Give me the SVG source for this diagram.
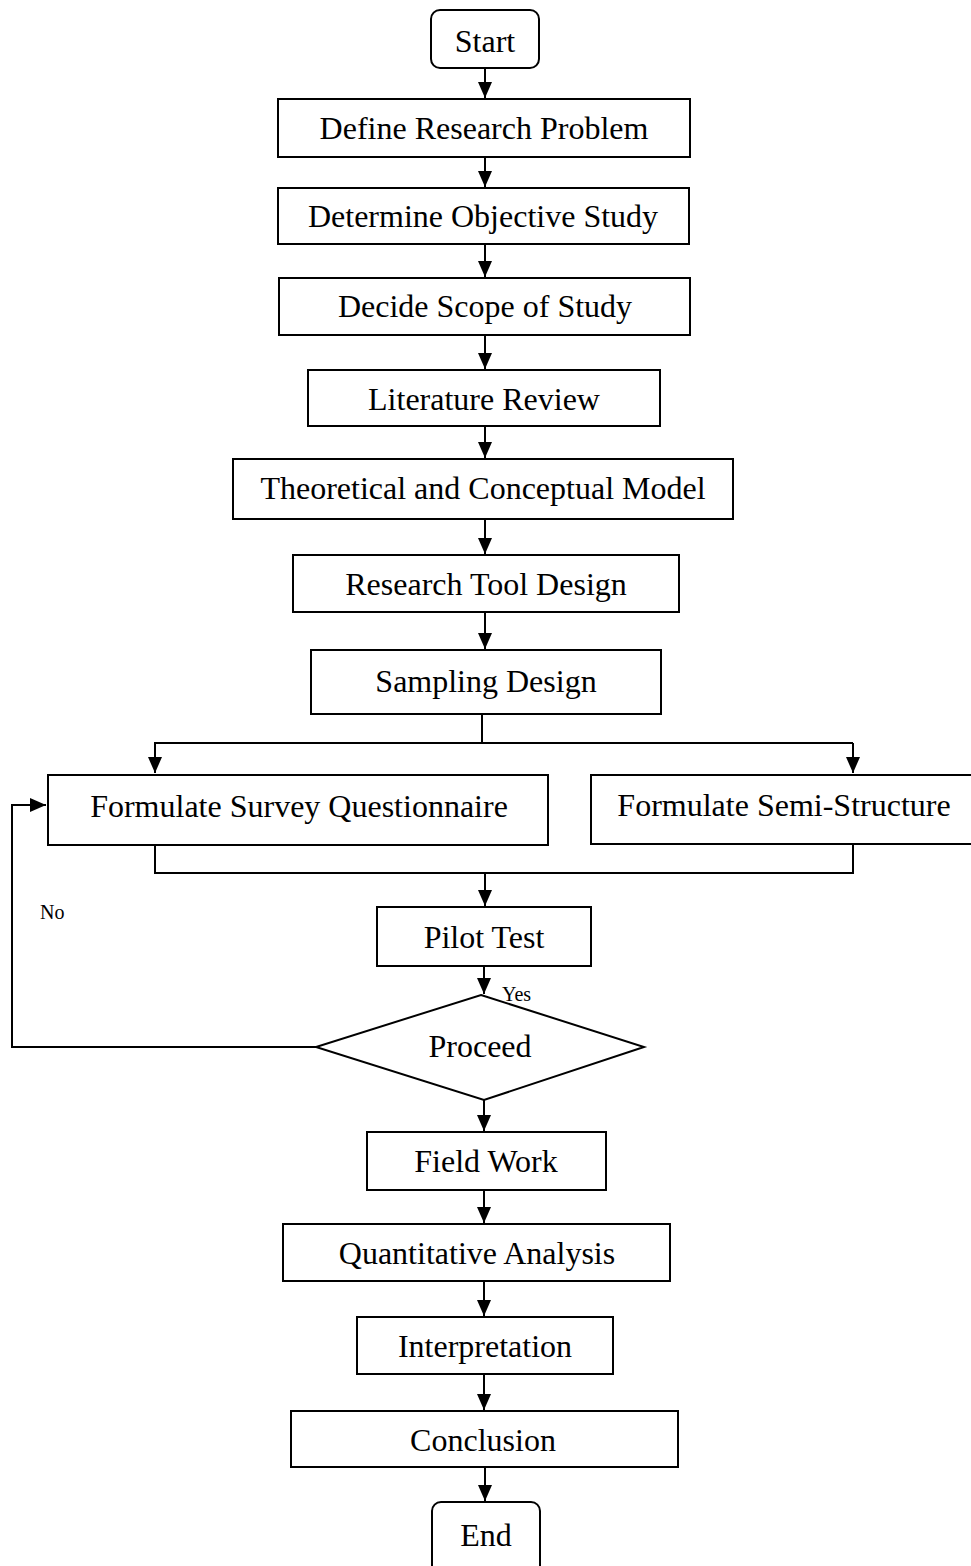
<svg xmlns="http://www.w3.org/2000/svg" width="971" height="1566" viewBox="0 0 971 1566">
<defs>
<marker id="ah" viewBox="0 0 16 14" refX="16" refY="7" markerWidth="16" markerHeight="14" markerUnits="userSpaceOnUse" orient="auto">
<path d="M0,0 L16,7 L0,14 z" fill="#000"/>
</marker>
</defs>
<style>
.box{fill:#fff;stroke:#000;stroke-width:2}
.t{font-family:"Liberation Serif","Times New Roman",serif;font-size:32px;fill:#000;text-anchor:middle}
.s{font-family:"Liberation Serif","Times New Roman",serif;font-size:20px;fill:#000}
.c{fill:none;stroke:#000;stroke-width:2}
</style>
<rect width="971" height="1566" fill="#fff"/>
<g id="connectors">
<path class="c" d="M485,68 V98" marker-end="url(#ah)"/>
<path class="c" d="M485,157 V187" marker-end="url(#ah)"/>
<path class="c" d="M485,244 V277" marker-end="url(#ah)"/>
<path class="c" d="M485,335 V369" marker-end="url(#ah)"/>
<path class="c" d="M485,426 V458" marker-end="url(#ah)"/>
<path class="c" d="M485,519 V554" marker-end="url(#ah)"/>
<path class="c" d="M485,612 V649" marker-end="url(#ah)"/>
<path class="c" d="M482,714 V743"/>
<path class="c" d="M853,743 H155 V773" marker-end="url(#ah)"/>
<path class="c" d="M853,743 V773" marker-end="url(#ah)"/>
<path class="c" d="M155,845 V873 H853 V844"/>
<path class="c" d="M485,873 V906" marker-end="url(#ah)"/>
<path class="c" d="M484,966 V994" marker-end="url(#ah)"/>
<path class="c" d="M316,1047 H12 V805 H46" marker-end="url(#ah)"/>
<path class="c" d="M484,1100 V1131" marker-end="url(#ah)"/>
<path class="c" d="M484,1190 V1223" marker-end="url(#ah)"/>
<path class="c" d="M484,1281 V1316" marker-end="url(#ah)"/>
<path class="c" d="M484,1374 V1410" marker-end="url(#ah)"/>
<path class="c" d="M485,1467 V1501" marker-end="url(#ah)"/>
<text class="s" x="40" y="919">No</text>
<text class="s" x="502" y="1001">Yes</text>
</g>
<g id="start"><rect class="box" x="431" y="10" width="108" height="58" rx="9"/><text class="t" x="485" y="52">Start</text></g>
<g id="define"><rect class="box" x="278" y="99" width="412" height="58"/><text class="t" x="484" y="139">Define Research Problem</text></g>
<g id="objective"><rect class="box" x="278" y="188" width="411" height="56"/><text class="t" x="483" y="227">Determine Objective Study</text></g>
<g id="scope"><rect class="box" x="279" y="278" width="411" height="57"/><text class="t" x="485" y="317">Decide Scope of Study</text></g>
<g id="literature"><rect class="box" x="308" y="370" width="352" height="56"/><text class="t" x="484" y="410">Literature Review</text></g>
<g id="theoretical"><rect class="box" x="233" y="459" width="500" height="60"/><text class="t" x="483" y="499">Theoretical and Conceptual Model</text></g>
<g id="tool"><rect class="box" x="293" y="555" width="386" height="57"/><text class="t" x="486" y="595">Research Tool Design</text></g>
<g id="sampling"><rect class="box" x="311" y="650" width="350" height="64"/><text class="t" x="486" y="692">Sampling Design</text></g>
<g id="survey"><rect class="box" x="48" y="775" width="500" height="70"/><text class="t" x="299" y="817">Formulate Survey Questionnaire</text></g>
<g id="semi"><rect class="box" x="591" y="775" width="389" height="69"/><text class="t" x="784" y="816">Formulate Semi-Structure</text></g>
<g id="pilot"><rect class="box" x="377" y="907" width="214" height="59"/><text class="t" x="484" y="948">Pilot Test</text></g>
<g id="proceed"><polygon class="box" points="481,995 644,1047 484,1100 316,1047"/><text class="t" x="480" y="1057">Proceed</text></g>
<g id="fieldwork"><rect class="box" x="367" y="1132" width="239" height="58"/><text class="t" x="486" y="1172">Field Work</text></g>
<g id="quant"><rect class="box" x="283" y="1224" width="387" height="57"/><text class="t" x="477" y="1264">Quantitative Analysis</text></g>
<g id="interp"><rect class="box" x="357" y="1317" width="256" height="57"/><text class="t" x="485" y="1357">Interpretation</text></g>
<g id="conclusion"><rect class="box" x="291" y="1411" width="387" height="56"/><text class="t" x="483" y="1451">Conclusion</text></g>
<g id="end"><rect class="box" x="432" y="1502" width="108" height="80" rx="9"/><text class="t" x="486" y="1546">End</text></g>
</svg>
